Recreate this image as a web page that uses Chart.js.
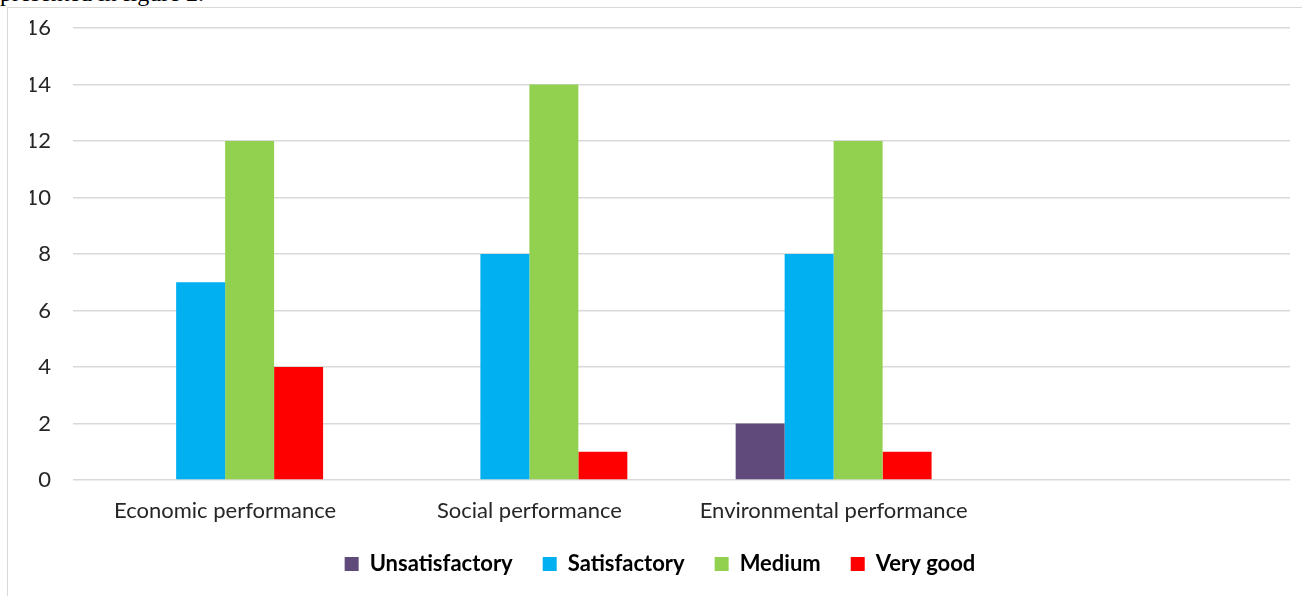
<!DOCTYPE html>
<html>
<head>
<meta charset="utf-8">
<script src="https://cdn.jsdelivr.net/npm/chart.js@4"></script>
<style>
  html, body { margin:0; padding:0; background:#fff; overflow:hidden; width:1302px; height:596px; }
  #cut { position:absolute; left:0; top:-19px; font:24px "Liberation Serif", serif; line-height:24px; color:#000; white-space:nowrap; }
  #frame { position:absolute; left:7px; top:7px; width:1340px; height:610px; border:1px solid #d9d9d9; }
  #wrap { position:absolute; left:8px; top:8px; width:1336px; height:577px; }
</style>
</head>
<body>
<div id="cut">presented in figure 2.</div>
<div id="frame"></div>
<div id="wrap"><canvas id="c"></canvas></div>
<script>
"use strict";
const categories     = ["Economic performance", "Social performance", "Environmental performance", ""];
const unsatisfactory = [0, 0, 2];
const satisfactory   = [7, 8, 8];
const medium         = [12, 14, 12];
const veryGood       = [4, 1, 1];
const yTicks         = [0, 2, 4, 6, 8, 10, 12, 14, 16];

const PURPLE = "#604a7b";
const CYAN   = "#00b0f0";
const GREEN  = "#92d050";
const RED    = "#ff0000";
const GRID   = "#d9d9d9";
const INK    = "#262626";
const FONT   = "Lato, 'Noto Sans', sans-serif";

const bar = (label, data, color) => ({
  label, data, backgroundColor: color, borderWidth: 0,
  categoryPercentage: 0.644, barPercentage: 1
});

new Chart(document.getElementById("c"), {
  type: "bar",
  data: {
    labels: categories,
    datasets: [
      bar("Unsatisfactory", unsatisfactory, PURPLE),
      bar("Satisfactory",   satisfactory,   CYAN),
      bar("Medium",         medium,         GREEN),
      bar("Very good",      veryGood,       RED),
    ]
  },
  options: {
    responsive: true,
    maintainAspectRatio: false,
    animation: false,
    // canvas runs past the window; left/right padding keep the legend centred like the original
    layout: { padding: { top: 20, right: 54, bottom: 0, left: 22 } },
    plugins: {
      tooltip: { enabled: false },
      legend: {
        position: "bottom",
        labels: {
          boxWidth: 14, boxHeight: 14, padding: 30, color: "#000",
          font: { family: FONT, size: 22, weight: "bold" }
        }
      }
    },
    scales: {
      x: {
        grid: { display: false },
        border: { display: false },
        ticks: { color: INK, padding: 10, maxRotation: 0, font: { family: FONT, size: 22 } },
        afterFit: s => { s.height = 43; }
      },
      y: {
        min: 0, max: 16,
        afterBuildTicks: s => { s.ticks = yTicks.map(v => ({ value: v })); },
        grid: { color: GRID, lineWidth: 1.5, drawTicks: false },
        border: { display: false },
        ticks: { color: INK, padding: 22, font: { family: FONT, size: 22 } },
        afterFit: s => { s.width = 43; s.paddingTop = 0; s.paddingBottom = 0; }
      }
    }
  }
});
</script>
</body>
</html>
